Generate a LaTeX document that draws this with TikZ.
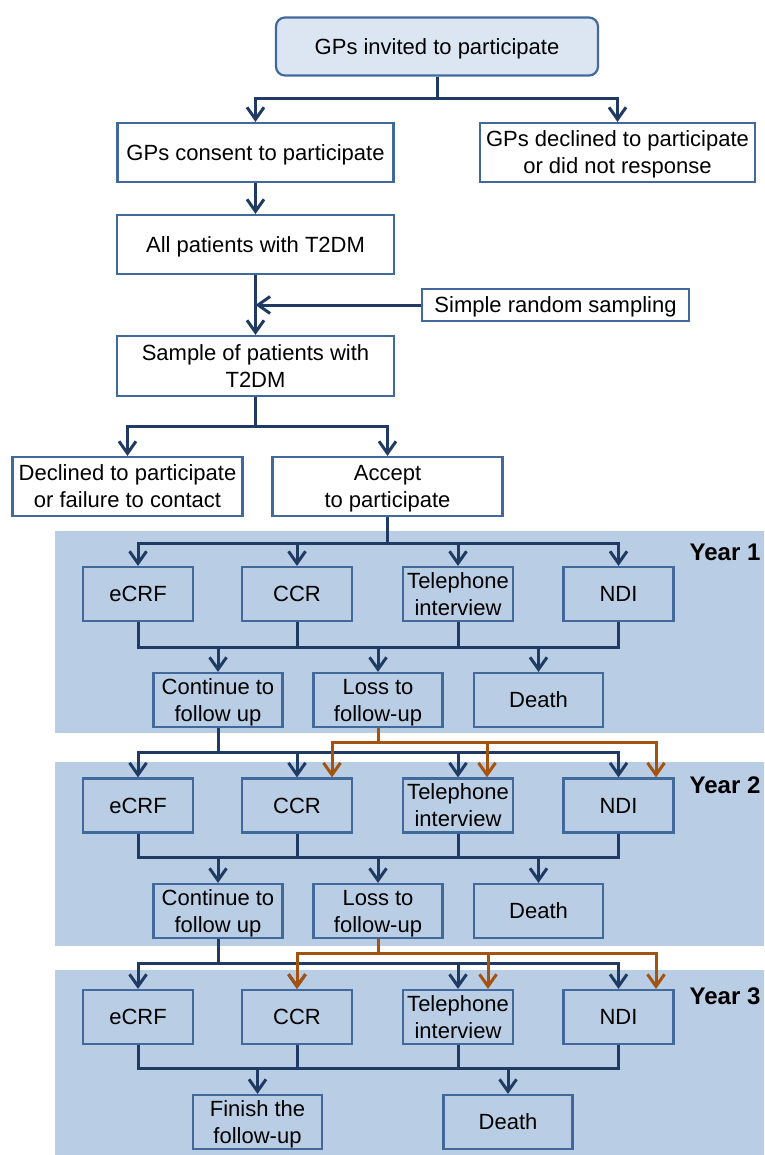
\documentclass[tikz,border=0pt]{standalone}
\usepackage{fontspec}
\setmainfont{Liberation Sans}
\usetikzlibrary{arrows.meta}
\definecolor{panel}{HTML}{B9CDE5}
\definecolor{boxc}{HTML}{41699C}
\definecolor{navy}{HTML}{1F3A63}
\definecolor{orng}{HTML}{A5520F}
\definecolor{topfill}{HTML}{DCE6F2}
\begin{document}
\begin{tikzpicture}[x=1pt,y=-1pt,
 bx/.style={draw=boxc,line width=2.2pt,align=center,inner sep=0pt,text depth=0pt,font=\fontsize{22}{27}\selectfont},
 wbx/.style={bx,fill=white},
 rbx/.style={bx,minimum width=110pt,minimum height=54pt},
 sbx/.style={bx,minimum width=129pt,minimum height=54pt},
 ln/.style={draw=navy,line width=3pt},
 arr/.style={ln,-{Straight Barb[length=12pt,width=17pt]}},
 oln/.style={draw=orng,line width=3pt},
 oarr/.style={oln,-{Straight Barb[length=12pt,width=17pt]}},
 yr/.style={font=\fontsize{24}{28}\bfseries\selectfont}
]
\useasboundingbox (0,0) rectangle (764,1155);
% panels
\fill[panel] (55,531) rectangle (764,733);
\fill[panel] (55,762) rectangle (764,946);
\fill[panel] (55,970) rectangle (764,1155);

% top part
\node[wbx,fill=topfill,rounded corners=9pt,minimum width=322pt,minimum height=58pt] (inv) at (437,46.5) {GPs invited to participate};
\node[wbx,minimum width=276pt,minimum height=59pt] (cons) at (255.5,152.5) {GPs consent to participate};
\node[wbx,minimum width=275pt,minimum height=59pt] (gdec) at (617.5,152.5) {GPs declined to participate\\or did not response};
\node[wbx,minimum width=277pt,minimum height=59pt] (all) at (255.5,244.5) {All patients with T2DM};
\node[wbx,minimum width=267pt,minimum height=32pt] (srs) at (555.5,305) {Simple random sampling};
\node[wbx,minimum width=277pt,minimum height=60pt] (samp) at (255.5,366) {Sample of patients with\\T2DM};
\node[wbx,minimum width=230pt,minimum height=59pt] (decl) at (127.5,486.5) {Declined to participate\\or failure to contact};
\node[wbx,minimum width=230pt,minimum height=59pt] (acc) at (387.5,486.5) {Accept\\to participate};

% year 1
\node[rbx] (e1) at (138,594) {eCRF};
\node[rbx] (c1) at (297,594) {CCR};
\node[rbx] (t1) at (458,594) {Telephone\\interview};
\node[rbx] (n1) at (618.5,594) {NDI};
\node[sbx] (co1) at (218,700) {Continue to\\follow up};
\node[sbx] (lo1) at (378,700) {Loss to\\follow-up};
\node[sbx] (d1) at (538.5,700) {Death};
\node[yr] (y1) at (725,552) {Year 1};

% year 2
\node[rbx] (e2) at (138,805.5) {eCRF};
\node[rbx] (c2) at (297,805.5) {CCR};
\node[rbx] (t2) at (458,805.5) {Telephone\\interview};
\node[rbx] (n2) at (618.5,805.5) {NDI};
\node[sbx] (co2) at (218,911) {Continue to\\follow up};
\node[sbx] (lo2) at (378,911) {Loss to\\follow-up};
\node[sbx] (d2) at (538.5,911) {Death};
\node[yr] (y2) at (725,785) {Year 2};

% year 3
\node[rbx] (e3) at (138,1017) {eCRF};
\node[rbx] (c3) at (297,1017) {CCR};
\node[rbx] (t3) at (458,1017) {Telephone\\interview};
\node[rbx] (n3) at (618.5,1017) {NDI};
\node[sbx] (fi3) at (257.5,1122) {Finish the\\follow-up};
\node[sbx] (d3) at (508,1122) {Death};
\node[yr] (y3) at (725,996) {Year 3};

% connectors top
\coordinate (b1) at (437,99);
\draw[ln] (inv.south) -- (b1);
\draw[arr] (b1) -| (cons.north);
\draw[arr] (b1) -| (gdec.north);
\draw[arr] (cons.south) -- (all.north);
\draw[arr] (all.south) -- (samp.north);
\draw[arr] (srs.west) -- (all.south |- srs.west);
\coordinate (b2) at (255.5,426);
\draw[ln] (samp.south) -- (b2);
\draw[arr] (b2) -| (decl.north);
\draw[arr] (b2) -| (acc.north);

% into year 1
\coordinate (b3) at (387.5,543);
\draw[ln] (acc.south) -- (b3);
\foreach \n in {e1,c1,t1,n1} \draw[arr] (b3) -| (\n.north);
% merge year 1
\coordinate (m1) at (378,647);
\draw[ln] (e1.south) -- (e1.south |- m1) -- (n1.south |- m1) -- (n1.south);
\draw[ln] (c1.south) -- (c1.south |- m1);
\draw[ln] (t1.south) -- (t1.south |- m1);
\foreach \n in {co1,lo1,d1} \draw[arr] (\n.north |- m1) -- (\n.north);

% into year 2
\coordinate (b4) at (218,752);
\draw[ln] (co1.south) -- (b4);
\foreach \n in {e2,c2,t2,n2} \draw[arr] (b4) -| (\n.north);
\coordinate (o4) at (378,742);
\draw[oln] (lo1.south) -- (o4);
\draw[oarr] (o4) -| (c2.north -| 332,0);
\draw[oarr] (o4) -| (t2.north -| 487,0);
\draw[oarr] (o4) -| (n2.north -| 656,0);
% merge year 2
\coordinate (m2) at (378,857);
\draw[ln] (e2.south) -- (e2.south |- m2) -- (n2.south |- m2) -- (n2.south);
\draw[ln] (c2.south) -- (c2.south |- m2);
\draw[ln] (t2.south) -- (t2.south |- m2);
\foreach \n in {co2,lo2,d2} \draw[arr] (\n.north |- m2) -- (\n.north);

% into year 3
\coordinate (b5) at (218,963);
\draw[ln] (co2.south) -- (b5);
\foreach \n in {e3,c3,t3,n3} \draw[arr] (b5) -| (\n.north);
\coordinate (o5) at (378,953);
\draw[oln] (lo2.south) -- (o5);
\draw[oarr] (o5) -| (c3.north -| 297,0);
\draw[oarr] (o5) -| (t3.north -| 488,0);
\draw[oarr] (o5) -| (n3.north -| 656,0);
% merge year 3
\coordinate (m3) at (378,1068);
\draw[ln] (e3.south) -- (e3.south |- m3) -- (n3.south |- m3) -- (n3.south);
\draw[ln] (c3.south) -- (c3.south |- m3);
\draw[ln] (t3.south) -- (t3.south |- m3);
\foreach \n in {fi3,d3} \draw[arr] (\n.north |- m3) -- (\n.north);
\end{tikzpicture}
\end{document}
